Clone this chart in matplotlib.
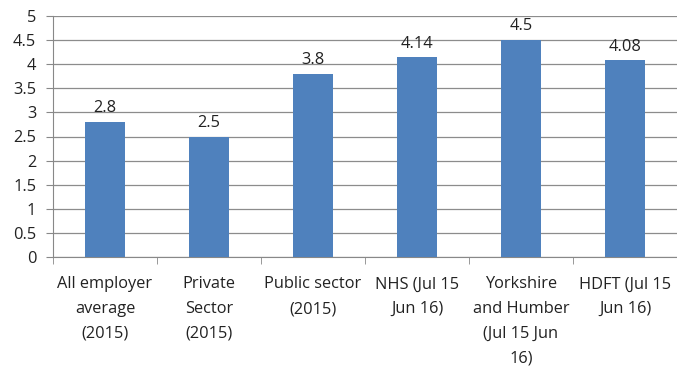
import numpy as np
import matplotlib.pyplot as plt
from matplotlib.ticker import FixedLocator

categories = ["All employer\naverage\n(2015)", "Private\nSector\n(2015)", "Public sector\n(2015)",
              "NHS (Jul 15\nJun 16)", "Yorkshire\nand Humber\n(Jul 15 Jun\n16)", "HDFT (Jul 15\nJun 16)"]
values = [2.8, 2.5, 3.8, 4.14, 4.5, 4.08]
value_labels = ["2.8", "2.5", "3.8", "4.14", "4.5", "4.08"]
y_ticks = [0, 0.5, 1, 1.5, 2, 2.5, 3, 3.5, 4, 4.5, 5]
y_tick_labels = ["0", "0.5", "1", "1.5", "2", "2.5", "3", "3.5", "4", "4.5", "5"]

plt.rcParams['font.family'] = ['Open Sans', 'DejaVu Sans']
fs = 11.8

fig = plt.figure(figsize=(6.77, 3.67), dpi=100)
ax = fig.add_axes([53 / 677, 1 - 257 / 367, 624 / 677, 241 / 367])

x = np.arange(len(categories))
ax.bar(x, values, width=0.38, color='#4F81BD', zorder=3)
for xi, v, lab in zip(x, values, value_labels):
    ax.text(xi, v + 0.12, lab, ha='center', va='bottom', fontsize=fs, color='#222222')

ax.set_xlim(-0.5, len(categories) - 0.5)
ax.set_ylim(0, 5)
ax.set_yticks(y_ticks)
ax.set_yticklabels(y_tick_labels, fontsize=fs, color='#222222')
ax.set_xticks(x)
ax.set_xticklabels(categories, fontsize=fs, color='#222222', linespacing=1.72)
ax.xaxis.set_minor_locator(FixedLocator(np.arange(-0.5, len(categories), 1.0)))
ax.tick_params(axis='x', which='major', length=0, pad=14)
ax.tick_params(axis='x', which='minor', length=5, color='#888888')
ax.tick_params(axis='y', length=5, color='#888888', pad=7)

ax.yaxis.grid(True, color='#8c8c8c', linewidth=0.9, zorder=0)
for s in ['top', 'right']:
    ax.spines[s].set_visible(False)
ax.spines['left'].set_color('#888888')
ax.spines['bottom'].set_color('#888888')

fig.savefig('out.png', dpi=100, facecolor='white')
